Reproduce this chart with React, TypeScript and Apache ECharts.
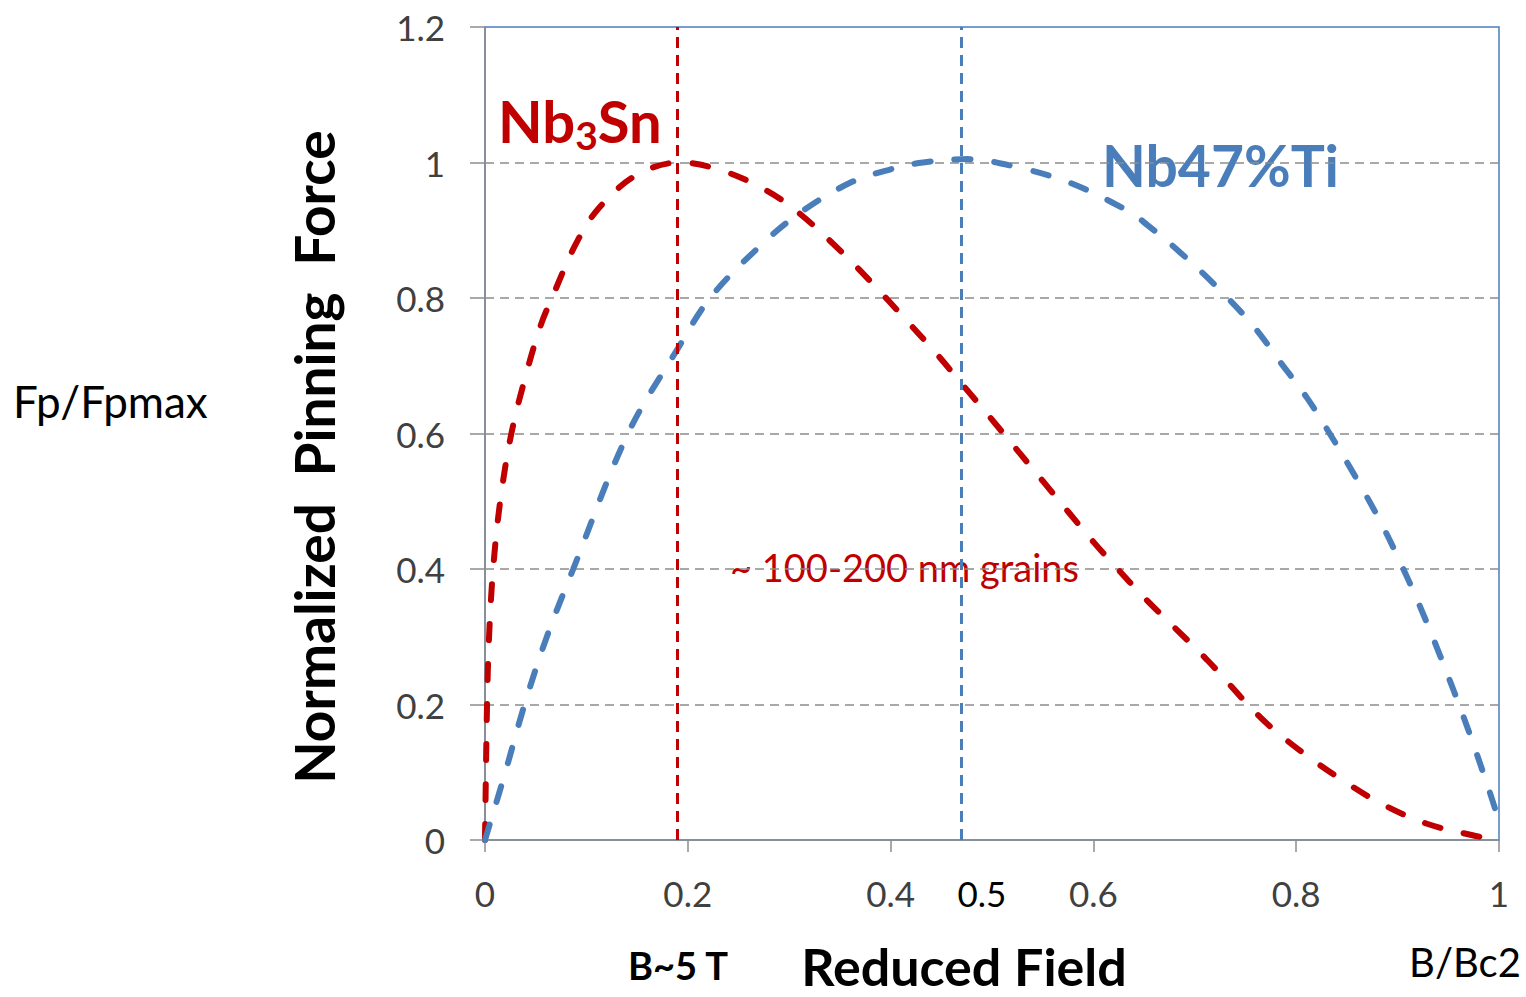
import React, { useEffect, useRef } from "react";
import * as echarts from "echarts";

// Reduced field b = B/Bc2 and normalized pinning force Fp/Fpmax
const nb3snB = [0, 0.002, 0.004, 0.008, 0.015, 0.026, 0.041, 0.055, 0.066, 0.09, 0.113, 0.15, 0.192, 0.232, 0.276, 0.31, 0.353, 0.383, 0.412, 0.444, 0.471, 0.498, 0.55, 0.6, 0.621, 0.65, 0.712, 0.751, 0.774, 0.81, 0.85, 0.886, 0.929, 0.974, 1.0];
const nb3snF = [0, 0.2, 0.3, 0.4, 0.5, 0.6, 0.69, 0.76, 0.8, 0.881, 0.934, 0.982, 1.0, 0.989, 0.96, 0.925, 0.866, 0.82, 0.773, 0.72, 0.672, 0.624, 0.53, 0.44, 0.405, 0.358, 0.266, 0.202, 0.168, 0.125, 0.084, 0.052, 0.024, 0.007, 0];

const nbtiB = [0, 0.02, 0.039, 0.061, 0.087, 0.141, 0.19, 0.222, 0.27, 0.31, 0.36, 0.4, 0.432, 0.476, 0.525, 0.577, 0.636, 0.653, 0.685, 0.72, 0.757, 0.784, 0.81, 0.833, 0.86, 0.883, 0.902, 0.92, 0.935, 0.949, 0.962, 0.976, 0.991, 0.997];
const nbtiF = [0, 0.1, 0.2, 0.3, 0.4, 0.6, 0.725, 0.8, 0.875, 0.925, 0.97, 0.99, 1.0, 1.005, 0.993, 0.97, 0.927, 0.908, 0.868, 0.819, 0.76, 0.706, 0.654, 0.6, 0.532, 0.47, 0.412, 0.352, 0.298, 0.245, 0.194, 0.136, 0.07, 0.042];

const nb3snMarker = 0.19;
const nbtiMarker = 0.475;
const extraTickLabel = "0.5";
const extraTickValue = 0.49;

const RED = "#c00000";
const BLUE = "#4a7ebb";
const GRAY = "#8c8c8c";
const FONT = "Lato";

export default function App() {
  const ref = useRef<HTMLDivElement>(null);

  useEffect(() => {
    if (!ref.current) return;
    const chart = echarts.init(ref.current, undefined, { renderer: "svg" });
    const left = 485, right = 27, top = 27, bottom = 157;
    const plotW = 1526 - left - right;
    const xPix = (v: number) => left + v * plotW;

    const option: any = {
      animation: false,
      backgroundColor: "#ffffff",
      grid: { left, right, top, bottom, show: true, borderColor: BLUE, borderWidth: 1.5, backgroundColor: "transparent" },
      xAxis: {
        type: "value",
        min: 0,
        max: 1,
        interval: 0.2,
        axisLine: { show: true, lineStyle: { color: GRAY, width: 1.5 } },
        axisTick: { show: true, length: 12, lineStyle: { color: GRAY, width: 1.5 } },
        axisLabel: { margin: 35, fontSize: 35, color: "#404040", fontFamily: FONT },
        splitLine: { show: false },
      },
      yAxis: {
        type: "value",
        min: 0,
        max: 1.2,
        interval: 0.2,
        axisLine: { show: true, lineStyle: { color: GRAY, width: 1.5 } },
        axisTick: { show: true, length: 15, lineStyle: { color: GRAY, width: 1.5 } },
        axisLabel: { margin: 40, fontSize: 35, color: "#404040", fontFamily: FONT },
        splitLine: { show: true, showMaxLine: false, showMinLine: false, lineStyle: { color: GRAY, width: 1.5, type: [9, 6] } },
      },
      series: [
        {
          name: "Nb3Sn",
          type: "line",
          data: nb3snB.map((b, i) => [b, nb3snF[i]]),
          showSymbol: false,
          smooth: 0.35,
          lineStyle: { color: RED, width: 6, type: [16, 24], cap: "round" },
          z: 3,
          markLine: {
            silent: true,
            symbol: "none",
            label: { show: false },
            lineStyle: { color: RED, width: 3, type: [11, 7] },
            data: [{ xAxis: nb3snMarker }],
          },
        },
        {
          name: "Nb47%Ti",
          type: "line",
          data: nbtiB.map((b, i) => [b, nbtiF[i]]),
          showSymbol: false,
          smooth: 0.35,
          lineStyle: { color: BLUE, width: 6, type: [16, 24], cap: "round" },
          z: 3,
          markLine: {
            silent: true,
            symbol: "none",
            label: { show: false },
            lineStyle: { color: BLUE, width: 3, type: [11, 7] },
            data: [{ xAxis: nbtiMarker }],
          },
        },
      ],
      graphic: [
        { type: "text", x: 13, y: 401, style: { text: "Fp/Fpmax", fontSize: 44, fontFamily: FONT, fill: "#000", align: "left", verticalAlign: "middle" } },
        {
          type: "text",
          x: 314,
          y: 457,
          rotation: Math.PI / 2,
          style: { text: "Normalized  Pinning  Force", fontSize: 55, fontWeight: "bold", fontFamily: FONT, fill: "#000", align: "center", verticalAlign: "middle" },
        },
        { type: "text", x: 964, y: 966, style: { text: "Reduced Field", fontSize: 52, lineHeight: 52, fontWeight: "bold", fontFamily: FONT, fill: "#000", align: "center", verticalAlign: "middle" } },
        { type: "text", x: 678, y: 965, style: { text: "B~5 T", fontSize: 38, fontWeight: "bold", fontFamily: FONT, fill: "#000", align: "center", verticalAlign: "middle" } },
        { type: "text", x: 1465, y: 962, style: { text: "B/Bc2", fontSize: 40, fontFamily: FONT, fill: "#000", align: "center", verticalAlign: "middle" } },
        { type: "text", x: xPix(extraTickValue), y: 893, style: { text: extraTickLabel, fontSize: 35, fontFamily: FONT, fill: "#000", align: "center", verticalAlign: "middle" } },
        {
          type: "text",
          x: 498,
          y: 120,
          style: {
            text: "{a|Nb}{s|3}{a|Sn}",
            align: "left",
            verticalAlign: "middle",
            rich: {
              a: { fontSize: 58, fontWeight: "bold", fontFamily: FONT, fill: RED, color: RED, lineHeight: 68 },
              s: { fontSize: 39, fontWeight: "bold", fontFamily: FONT, fill: RED, color: RED, lineHeight: 36, verticalAlign: "bottom" },
            },
          },
        },
        { type: "text", x: 1102, y: 165, style: { text: "Nb47%Ti", fontSize: 57, fontWeight: "bold", fontFamily: FONT, fill: BLUE, align: "left", verticalAlign: "middle" } },
        { type: "text", x: 730, y: 567, style: { text: "~ 100-200 nm grains", fontSize: 38, fontFamily: FONT, fill: RED, align: "left", verticalAlign: "middle" } },
      ],
    };
    chart.setOption(option);
    return () => chart.dispose();
  }, []);

  return <div ref={ref} style={{ position: "absolute", left: 0, top: 0, width: 1526, height: 997 }} />;
}
